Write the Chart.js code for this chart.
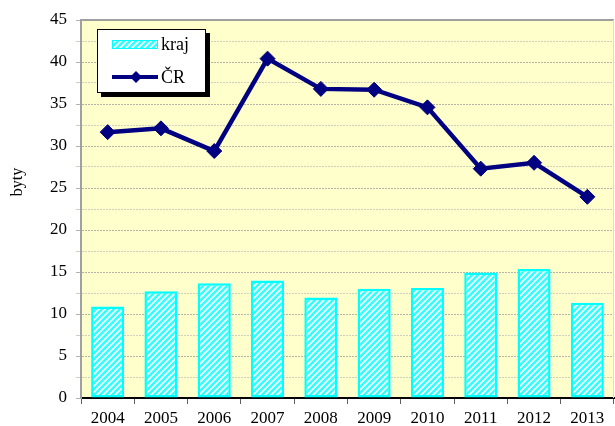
<!DOCTYPE html>
<html>
<head>
<meta charset="utf-8">
<script src="https://cdn.jsdelivr.net/npm/chart.js@4/dist/chart.umd.min.js"></script>
<style>
  html, body { margin: 0; padding: 0; background: #ffffff; }
  #wrap { width: 615px; height: 426px; position: relative; }
</style>
</head>
<body>
<div id="wrap"><canvas id="c" width="615" height="426"></canvas></div>
<script>
const years = ['2004','2005','2006','2007','2008','2009','2010','2011','2012','2013'];
const krajValues = [10.9, 12.7, 13.65, 14.0, 11.95, 13.0, 13.1, 14.95, 15.35, 11.35];
const crValues = [31.65, 32.1, 29.4, 40.4, 36.8, 36.7, 34.6, 27.3, 28.0, 23.95];
const seriesNames = ['kraj', 'ČR'];
const yAxisTitle = 'byty';

const FONT = '"Liberation Serif", "Times New Roman", serif';

function makeHatch() {
  const s = 6;
  const p = document.createElement('canvas');
  p.width = s; p.height = s;
  const g = p.getContext('2d');
  g.fillStyle = '#33ffff';
  g.fillRect(0, 0, s, s);
  g.strokeStyle = '#ffffff';
  g.lineWidth = 1.6;
  g.beginPath();
  g.moveTo(0, s); g.lineTo(s, 0);
  g.moveTo(-s/2, s/2); g.lineTo(s/2, -s/2);
  g.moveTo(s/2, s*1.5); g.lineTo(s*1.5, s/2);
  g.stroke();
  return g.createPattern(p, 'repeat');
}
const ctx0 = document.getElementById('c').getContext('2d');
const hatch = makeHatch();

const bgPlugin = {
  id: 'plotbg',
  beforeDraw(chart) {
    const { ctx, chartArea: a } = chart;
    ctx.save();
    ctx.fillStyle = '#ffffcc';
    ctx.fillRect(a.left, a.top, a.right - a.left, a.bottom - a.top);
    ctx.restore();
  },
  afterDraw(chart) {
    const { ctx, chartArea: a } = chart;
    ctx.save();
    // top border
    ctx.strokeStyle = '#a0a0a0';
    ctx.lineWidth = 2;
    ctx.beginPath();
    ctx.moveTo(a.left - 1, a.top);
    ctx.lineTo(a.right, a.top);
    ctx.stroke();
    ctx.strokeStyle = '#e0e0c0';
    ctx.lineWidth = 1;
    ctx.beginPath();
    ctx.moveTo(a.right - 0.5, a.top);
    ctx.lineTo(a.right - 0.5, a.bottom);
    ctx.stroke();

    // y axis title
    ctx.save();
    ctx.translate(18, 182);
    ctx.rotate(-Math.PI / 2);
    ctx.fillStyle = '#000000';
    ctx.font = '16px ' + FONT;
    ctx.textAlign = 'center';
    ctx.textBaseline = 'middle';
    ctx.fillText(yAxisTitle, 0, 0);
    ctx.restore();

    // legend
    const lx = 97, ly = 29, lw = 109, lh = 64;
    ctx.fillStyle = '#000000';
    ctx.fillRect(lx + 4, ly + 4, lw, lh);
    ctx.fillStyle = '#ffffff';
    ctx.fillRect(lx, ly, lw, lh);
    ctx.strokeStyle = '#000000';
    ctx.lineWidth = 1;
    ctx.strokeRect(lx + 0.5, ly + 0.5, lw - 1, lh - 1);
    // kraj swatch
    ctx.fillStyle = hatch;
    ctx.fillRect(112, 40, 46, 9);
    ctx.strokeStyle = '#00ffff';
    ctx.lineWidth = 1;
    ctx.strokeRect(112.5, 40.5, 45, 8);
    // CR swatch
    ctx.strokeStyle = '#000080';
    ctx.lineWidth = 4;
    ctx.beginPath();
    ctx.moveTo(112, 77); ctx.lineTo(158, 77);
    ctx.stroke();
    ctx.fillStyle = '#000080';
    ctx.beginPath();
    ctx.moveTo(136, 71); ctx.lineTo(142, 77); ctx.lineTo(136, 83); ctx.lineTo(130, 77);
    ctx.closePath(); ctx.fill();
    ctx.fillStyle = '#000000';
    ctx.font = '18px ' + FONT;
    ctx.textBaseline = 'middle';
    ctx.textAlign = 'left';
    ctx.fillText(seriesNames[0], 161, 45);
    ctx.fillText(seriesNames[1], 161, 78);
    ctx.restore();
  }
};

new Chart(ctx0, {
  data: {
    labels: years,
    datasets: [
      {
        type: 'line',
        label: seriesNames[1],
        data: crValues,
        borderColor: '#000080',
        backgroundColor: '#000080',
        borderWidth: 4.5,
        pointStyle: 'rectRot',
        pointRadius: 7.5,
        pointHoverRadius: 7.5,
        pointBorderWidth: 1,
        tension: 0,
        order: 0
      },
      {
        type: 'bar',
        label: seriesNames[0],
        data: krajValues,
        backgroundColor: hatch,
        borderColor: '#00ffff',
        borderWidth: 2.5,
        borderSkipped: false,
        barPercentage: 0.62,
        categoryPercentage: 1.0,
        order: 1
      }
    ]
  },
  options: {
    responsive: false,
    animation: false,
    devicePixelRatio: 1,
    layout: { autoPadding: false, padding: { top: 20, right: 1, left: 0, bottom: 0 } },
    plugins: { legend: { display: false }, tooltip: { enabled: false } },
    scales: {
      x: {
        type: 'category',
        offset: true,
        grid: {
          offset: true,
          drawOnChartArea: false,
          drawTicks: true,
          tickLength: 6,
          color: '#606060',
          lineWidth: 1
        },
        border: { color: '#000000', width: 2 },
        ticks: {
          color: '#000000',
          font: { family: FONT, size: 17 },
          padding: 4,
          maxRotation: 0,
          autoSkip: false
        },
        afterFit(s) { s.height = 28; }
      },
      y: {
        min: 0,
        max: 45,
        grid: {
          color(c) { return (c.tick && c.tick.value % 5 === 0) ? '#b4b4a8' : '#cfcfc0'; },
          lineWidth: 1,
          tickLength: 5,
          drawTicks: true
        },
        border: { color: '#a0a0a0', width: 2, dash: [2, 1] },
        ticks: {
          stepSize: 2.5,
          maxTicksLimit: 30,
          autoSkip: false,
          color: '#000000',
          font: { family: FONT, size: 17 },
          padding: 9,
          callback(v) { return (v % 5 === 0) ? String(v) : ''; }
        },
        afterFit(s) { s.width = 81; }
      }
    }
  },
  plugins: [bgPlugin]
});
</script>
</body>
</html>
